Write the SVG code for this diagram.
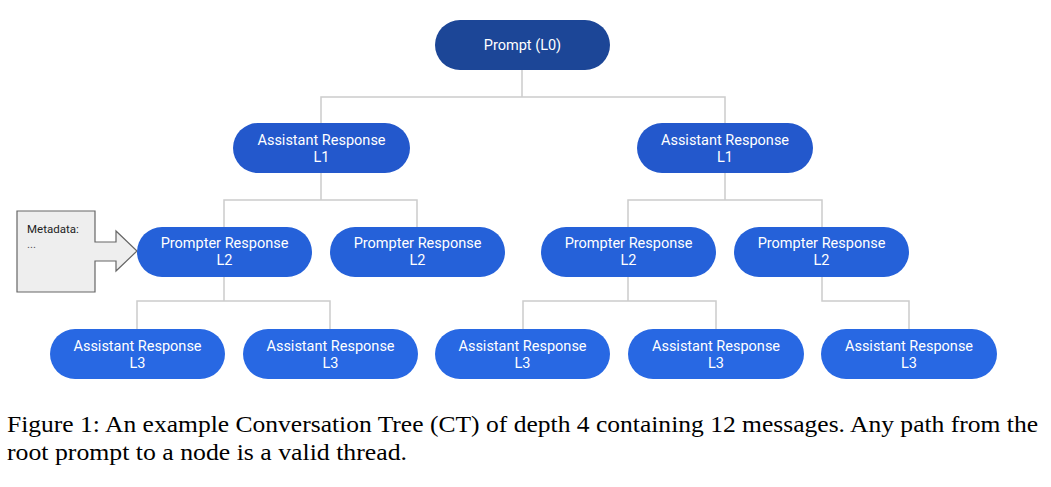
<svg xmlns="http://www.w3.org/2000/svg" width="1051" height="487" viewBox="0 0 1051 487">
<style>
.n0{fill:#1c4697}
.n1{fill:#2358cc}
.n2{fill:#2561d9}
.n3{fill:#2868e3}
.t{font-family:Roboto,"Liberation Sans",sans-serif;font-size:14.5px;fill:#ffffff;text-anchor:middle}
.c{fill:none;stroke:#cccccc;stroke-width:1.5}
.cap{font-family:"Liberation Serif","Times New Roman",serif;font-size:23px;fill:#000}
.m{font-family:Roboto,"Liberation Sans",sans-serif;font-size:11.5px}
</style>
<rect width="1051" height="487" fill="#ffffff"/>
<g id="connectors">
<path class="c" d="M522,70V97M321,123V97H725V123"/>
<path class="c" d="M321,173V200M224,227V200H417V227"/>
<path class="c" d="M725,173V200M628,227V200H822V227"/>
<path class="c" d="M224,277V301M137,329V301H330V329"/>
<path class="c" d="M628,277V301M523,329V301H716V329"/>
<path class="c" d="M822,277V301H909V329"/>
</g>
<g id="metadata">
<path d="M17,211H95V242H116V231L137,251L116,271V261H95V292H17Z" fill="#eeeeee" stroke="#666666" stroke-width="1.2"/>
<text class="m" x="27" y="233" fill="#222">Metadata:</text>
<text class="m" x="27" y="248" fill="#555">...</text>
</g>
<g id="root">
<rect class="n0" x="435" y="20" width="175" height="50" rx="25"/>
<text class="t" x="522.5" y="50">Prompt (L0)</text>
</g>
<g id="a1-left">
<rect class="n1" x="233" y="123" width="177" height="50" rx="25"/>
<text class="t" x="321.5" y="145">Assistant Response</text>
<text class="t" x="321.5" y="162">L1</text>
</g>
<g id="a1-right">
<rect class="n1" x="637" y="123" width="176" height="50" rx="25"/>
<text class="t" x="725" y="145">Assistant Response</text>
<text class="t" x="725" y="162">L1</text>
</g>
<g id="p2-1">
<rect class="n2" x="137" y="227" width="175" height="50" rx="25"/>
<text class="t" x="224.5" y="248">Prompter Response</text>
<text class="t" x="224.5" y="265">L2</text>
</g>
<g id="p2-2">
<rect class="n2" x="330" y="227" width="175" height="50" rx="25"/>
<text class="t" x="417.5" y="248">Prompter Response</text>
<text class="t" x="417.5" y="265">L2</text>
</g>
<g id="p2-3">
<rect class="n2" x="541" y="227" width="175" height="50" rx="25"/>
<text class="t" x="628.5" y="248">Prompter Response</text>
<text class="t" x="628.5" y="265">L2</text>
</g>
<g id="p2-4">
<rect class="n2" x="734" y="227" width="175" height="50" rx="25"/>
<text class="t" x="821.5" y="248">Prompter Response</text>
<text class="t" x="821.5" y="265">L2</text>
</g>
<g id="a3-1">
<rect class="n3" x="50" y="329" width="175" height="50" rx="25"/>
<text class="t" x="137.5" y="351">Assistant Response</text>
<text class="t" x="137.5" y="368">L3</text>
</g>
<g id="a3-2">
<rect class="n3" x="243" y="329" width="175" height="50" rx="25"/>
<text class="t" x="330.5" y="351">Assistant Response</text>
<text class="t" x="330.5" y="368">L3</text>
</g>
<g id="a3-3">
<rect class="n3" x="435" y="329" width="175" height="50" rx="25"/>
<text class="t" x="522.5" y="351">Assistant Response</text>
<text class="t" x="522.5" y="368">L3</text>
</g>
<g id="a3-4">
<rect class="n3" x="628" y="329" width="176" height="50" rx="25"/>
<text class="t" x="716" y="351">Assistant Response</text>
<text class="t" x="716" y="368">L3</text>
</g>
<g id="a3-5">
<rect class="n3" x="821" y="329" width="176" height="50" rx="25"/>
<text class="t" x="909" y="351">Assistant Response</text>
<text class="t" x="909" y="368">L3</text>
</g>
<g id="caption">
<text class="cap" x="7" y="432" textLength="1031" lengthAdjust="spacingAndGlyphs">Figure 1: An example Conversation Tree (CT) of depth 4 containing 12 messages. Any path from the</text>
<text class="cap" x="7" y="460" textLength="400" lengthAdjust="spacingAndGlyphs">root prompt to a node is a valid thread.</text>
</g>
</svg>
